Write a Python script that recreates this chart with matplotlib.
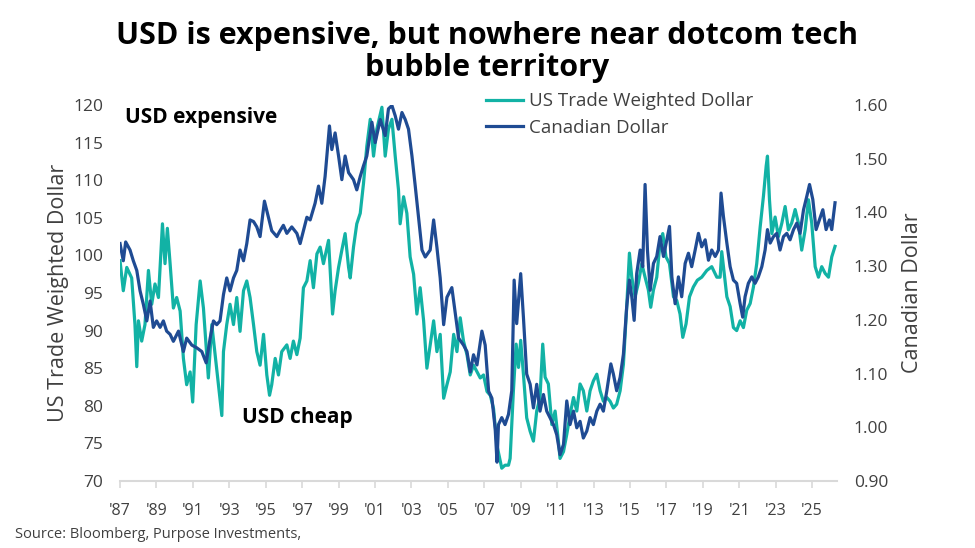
import numpy as np
import matplotlib
matplotlib.use("Agg")
import matplotlib.pyplot as plt
from matplotlib.ticker import FormatStrFormatter

# data (decimal years)
twd_years = [1987.00, 1987.18, 1987.37, 1987.64, 1987.82, 1987.92, 1988.01, 1988.19, 1988.37, 1988.56,
             1988.74, 1988.92, 1989.11, 1989.33, 1989.47, 1989.60, 1989.75, 1989.93, 1990.11, 1990.30,
             1990.48, 1990.66, 1990.85, 1990.99, 1991.18, 1991.40, 1991.58, 1991.85, 1992.04, 1992.22,
             1992.40, 1992.59, 1992.68, 1992.86, 1993.04, 1993.23, 1993.41, 1993.59, 1993.78, 1993.96,
             1994.14, 1994.33, 1994.51, 1994.69, 1994.88, 1995.06, 1995.21, 1995.33, 1995.52, 1995.70,
             1995.88, 1996.16, 1996.34, 1996.52, 1996.71, 1996.89, 1997.07, 1997.26, 1997.44, 1997.62,
             1997.81, 1997.99, 1998.17, 1998.45, 1998.67, 1998.81, 1999.00, 1999.18, 1999.36, 1999.55,
             1999.64, 1999.82, 2000.00, 2000.19, 2000.37, 2000.55, 2000.74, 2000.92, 2001.10, 2001.38,
             2001.56, 2001.74, 2001.93, 2002.11, 2002.29, 2002.38, 2002.57, 2002.75, 2002.93, 2003.12,
             2003.30, 2003.48, 2003.67, 2003.85, 2004.03, 2004.22, 2004.40, 2004.58, 2004.77, 2004.95,
             2005.13, 2005.32, 2005.50, 2005.68, 2005.86, 2006.05, 2006.23, 2006.41, 2006.78, 2006.96,
             2007.15, 2007.33, 2007.51, 2007.70, 2007.96, 2008.14, 2008.33, 2008.42, 2008.51, 2008.60,
             2008.75, 2008.88, 2009.00, 2009.15, 2009.33, 2009.52, 2009.70, 2009.88, 2010.06, 2010.21,
             2010.34, 2010.52, 2010.71, 2010.89, 2011.07, 2011.16, 2011.35, 2011.53, 2011.71, 2011.90,
             2012.08, 2012.26, 2012.44, 2012.63, 2012.81, 2012.99, 2013.18, 2013.36, 2013.54, 2013.73,
             2013.91, 2014.09, 2014.27, 2014.46, 2014.64, 2014.82, 2014.97, 2015.10, 2015.28, 2015.46,
             2015.65, 2015.83, 2016.01, 2016.14, 2016.29, 2016.47, 2016.65, 2016.80, 2016.98, 2017.17,
             2017.39, 2017.57, 2017.75, 2017.90, 2018.08, 2018.27, 2018.48, 2018.70, 2018.94, 2019.22,
             2019.49, 2019.77, 2019.95, 2020.04, 2020.32, 2020.50, 2020.68, 2020.86, 2021.05, 2021.23,
             2021.41, 2021.60, 2021.78, 2021.96, 2022.15, 2022.33, 2022.48, 2022.55, 2022.66, 2022.79,
             2022.97, 2023.15, 2023.34, 2023.52, 2023.70, 2023.88, 2024.07, 2024.25, 2024.43, 2024.62,
             2024.80, 2024.98, 2025.17, 2025.35, 2025.53, 2025.72, 2025.90, 2026.08, 2026.26]
twd_values = [99.3, 95.3, 98.4, 97.0, 90.8, 85.2, 91.3, 88.6, 90.8, 98.0,
              93.5, 96.2, 94.4, 104.2, 98.9, 103.6, 98.9, 93.0, 94.4, 92.6,
              86.3, 82.8, 84.5, 80.5, 90.8, 96.6, 93.0, 83.7, 90.8, 86.8,
              82.8, 78.7, 87.2, 90.8, 93.5, 90.8, 94.4, 89.9, 95.3, 96.6,
              94.4, 90.8, 87.2, 85.4, 89.5, 84.1, 81.4, 82.8, 86.3, 84.1,
              87.2, 88.1, 86.3, 88.6, 86.8, 89.0, 95.7, 96.6, 99.3, 95.7,
              100.2, 101.1, 98.9, 102.0, 92.2, 95.3, 98.4, 100.7, 102.9, 98.4,
              97.0, 101.1, 104.2, 105.6, 109.6, 114.5, 118.1, 113.2, 116.8, 119.7,
              113.2, 116.8, 118.1, 113.2, 108.7, 104.2, 107.8, 105.6, 99.8, 97.5,
              92.2, 95.7, 91.3, 85.0, 88.1, 91.3, 87.2, 89.5, 81.0, 82.8,
              84.5, 89.5, 87.2, 91.7, 88.6, 86.8, 84.1, 85.4, 83.7, 84.1,
              81.9, 81.4, 79.6, 74.7, 71.7, 72.1, 72.1, 73.0, 77.5, 82.0,
              88.2, 85.1, 88.7, 84.2, 78.4, 76.6, 75.3, 79.3, 81.1, 88.2,
              83.8, 82.9, 77.5, 79.3, 75.3, 73.0, 73.9, 76.2, 78.8, 81.1,
              79.3, 82.9, 82.0, 79.3, 82.0, 83.3, 84.2, 82.0, 80.6, 81.1,
              80.6, 79.7, 80.2, 82.0, 85.5, 93.1, 100.3, 97.1, 94.5, 96.3,
              98.9, 97.1, 95.4, 93.1, 95.4, 97.1, 101.6, 102.9, 99.8, 98.9,
              94.5, 94.0, 92.2, 89.1, 90.9, 94.5, 95.8, 96.7, 97.1, 98.0,
              98.5, 97.1, 97.1, 100.5, 94.5, 93.2, 90.4, 90.0, 91.3, 90.4,
              92.7, 93.6, 95.8, 98.9, 103.8, 107.9, 111.9, 113.2, 107.4, 102.9,
              105.1, 102.5, 104.3, 106.5, 103.4, 104.3, 106.1, 104.3, 100.7, 103.4,
              107.4, 104.3, 98.5, 97.1, 98.5, 97.6, 97.1, 99.8, 101.2]

cad_years = [1987.00, 1987.18, 1987.31, 1987.55, 1987.73, 1987.92, 1988.10, 1988.28, 1988.47, 1988.65,
             1988.83, 1989.01, 1989.20, 1989.38, 1989.56, 1989.75, 1989.93, 1990.21, 1990.48, 1990.66,
             1990.94, 1991.21, 1991.49, 1991.73, 1991.95, 1992.13, 1992.31, 1992.49, 1992.68, 1992.86,
             1993.04, 1993.23, 1993.41, 1993.59, 1993.78, 1993.96, 1994.14, 1994.33, 1994.51, 1994.69,
             1994.93, 1995.15, 1995.33, 1995.61, 1995.79, 1995.97, 1996.16, 1996.43, 1996.71, 1996.89,
             1997.07, 1997.26, 1997.44, 1997.71, 1997.90, 1998.08, 1998.26, 1998.50, 1998.63, 1998.81,
             1999.00, 1999.18, 1999.36, 1999.55, 1999.82, 2000.00, 2000.19, 2000.37, 2000.55, 2000.83,
             2001.01, 2001.29, 2001.56, 2001.74, 2001.93, 2002.11, 2002.29, 2002.48, 2002.66, 2002.84,
             2003.03, 2003.21, 2003.39, 2003.58, 2003.76, 2004.03, 2004.22, 2004.40, 2004.58, 2004.77,
             2004.95, 2005.22, 2005.41, 2005.59, 2005.86, 2006.05, 2006.23, 2006.41, 2006.60, 2006.87,
             2007.05, 2007.24, 2007.42, 2007.60, 2007.70, 2007.78, 2007.96, 2008.14, 2008.33, 2008.51,
             2008.64, 2008.78, 2009.00, 2009.15, 2009.33, 2009.52, 2009.70, 2009.88, 2010.06, 2010.25,
             2010.43, 2010.61, 2010.80, 2010.98, 2011.16, 2011.35, 2011.53, 2011.71, 2011.90, 2012.08,
             2012.26, 2012.44, 2012.63, 2012.81, 2012.99, 2013.18, 2013.36, 2013.54, 2013.73, 2013.95,
             2014.09, 2014.27, 2014.46, 2014.64, 2014.82, 2014.97, 2015.10, 2015.23, 2015.37, 2015.56,
             2015.70, 2015.83, 2015.96, 2016.11, 2016.29, 2016.47, 2016.65, 2016.84, 2017.02, 2017.17,
             2017.30, 2017.48, 2017.66, 2017.84, 2018.03, 2018.21, 2018.39, 2018.58, 2018.76, 2018.94,
             2019.13, 2019.31, 2019.49, 2019.68, 2019.86, 2020.00, 2020.13, 2020.32, 2020.50, 2020.68,
             2020.86, 2021.05, 2021.19, 2021.32, 2021.50, 2021.69, 2021.87, 2022.05, 2022.24, 2022.42,
             2022.55, 2022.70, 2022.88, 2023.06, 2023.24, 2023.43, 2023.61, 2023.79, 2023.98, 2024.16,
             2024.34, 2024.53, 2024.71, 2024.86, 2025.04, 2025.22, 2025.40, 2025.59, 2025.77, 2025.95,
             2026.08, 2026.26]
cad_values = [1.342, 1.310, 1.345, 1.330, 1.310, 1.292, 1.254, 1.229, 1.198, 1.235,
              1.186, 1.198, 1.186, 1.198, 1.179, 1.173, 1.160, 1.179, 1.141, 1.166,
              1.153, 1.148, 1.141, 1.120, 1.166, 1.198, 1.191, 1.198, 1.247, 1.278,
              1.254, 1.278, 1.292, 1.330, 1.310, 1.342, 1.386, 1.383, 1.373, 1.355,
              1.421, 1.391, 1.366, 1.355, 1.366, 1.376, 1.361, 1.373, 1.361, 1.342,
              1.366, 1.391, 1.386, 1.417, 1.449, 1.417, 1.467, 1.561, 1.517, 1.548,
              1.505, 1.461, 1.505, 1.474, 1.461, 1.442, 1.467, 1.487, 1.505, 1.568,
              1.530, 1.573, 1.543, 1.593, 1.599, 1.580, 1.555, 1.586, 1.573, 1.555,
              1.505, 1.449, 1.391, 1.330, 1.317, 1.330, 1.386, 1.335, 1.278, 1.191,
              1.242, 1.260, 1.211, 1.166, 1.153, 1.141, 1.103, 1.135, 1.116, 1.179,
              1.153, 1.067, 1.054, 0.997, 0.935, 1.005, 1.018, 1.005, 1.024, 1.068,
              1.274, 1.193, 1.286, 1.205, 1.099, 1.080, 1.036, 1.080, 1.030, 1.061,
              1.030, 1.018, 1.005, 0.986, 0.949, 0.968, 1.049, 1.005, 1.030, 0.999,
              1.011, 0.980, 0.993, 1.018, 1.005, 1.030, 1.043, 1.030, 1.068, 1.118,
              1.099, 1.068, 1.093, 1.136, 1.224, 1.274, 1.243, 1.199, 1.286, 1.330,
              1.299, 1.452, 1.330, 1.255, 1.305, 1.318, 1.355, 1.318, 1.349, 1.374,
              1.280, 1.230, 1.280, 1.243, 1.305, 1.324, 1.299, 1.330, 1.361, 1.336,
              1.349, 1.311, 1.330, 1.318, 1.330, 1.436, 1.393, 1.343, 1.299, 1.274,
              1.268, 1.230, 1.205, 1.243, 1.268, 1.280, 1.268, 1.280, 1.299, 1.330,
              1.368, 1.343, 1.355, 1.361, 1.330, 1.355, 1.361, 1.349, 1.368, 1.380,
              1.361, 1.405, 1.430, 1.452, 1.424, 1.368, 1.386, 1.405, 1.368, 1.386,
              1.368, 1.418]

tick_years = list(range(1987, 2026, 2))
tick_labels = ["'" + str(y)[2:] for y in tick_years]

teal = '#12B2A5'
navy = '#1F4B93'
grey = '#404040'
font = ['Open Sans', 'DejaVu Sans']

fig = plt.figure(figsize=(9.75, 5.48), dpi=100)
ax = fig.add_axes([0.1231, 0.1223, 0.7354, 0.6861])
ax2 = ax.twinx()

l1, = ax.plot(twd_years, twd_values, color=teal, lw=2.3, label='US Trade Weighted Dollar')
l2, = ax2.plot(cad_years, cad_values, color=navy, lw=2.3, label='Canadian Dollar')

ax.set_xlim(1987.0, 2026.37)
ax.set_ylim(70, 120)
ax2.set_ylim(0.90, 1.60)
ax.set_yticks(np.arange(70, 121, 5))
ax2.set_yticks(np.arange(0.90, 1.601, 0.10))
ax2.yaxis.set_major_formatter(FormatStrFormatter('%.2f'))
ax.set_xticks(tick_years)
ax.set_xticklabels(tick_labels)

for a in (ax, ax2):
    for s in ['top', 'left', 'right']:
        a.spines[s].set_visible(False)
    a.spines['bottom'].set_color('#D9D9D9')
    a.spines['bottom'].set_linewidth(1.5)
ax2.spines['bottom'].set_visible(False)

ax.tick_params(axis='x', colors='#D9D9D9', length=5, width=1.2, labelcolor=grey, labelsize=11.5, pad=11)
ax.tick_params(axis='y', length=0, labelcolor=grey, labelsize=12.5, pad=12)
ax2.tick_params(axis='y', length=0, labelcolor=grey, labelsize=12.5, pad=12)
for lab in ax.get_xticklabels() + ax.get_yticklabels() + ax2.get_yticklabels():
    lab.set_family(font)

ax.set_ylabel('US Trade Weighted Dollar', fontsize=15.5, color=grey, family=font, labelpad=3)
ax2.set_ylabel('Canadian Dollar', fontsize=15.5, color=grey, family=font, labelpad=10)

fig.text(0.5, 0.905, 'USD is expensive, but nowhere near dotcom tech\nbubble territory',
         ha='center', va='center', fontsize=22, fontweight='bold', family=font,
         linespacing=1.05, color='black')

ax.text(0.007, 0.967, 'USD expensive', transform=ax.transAxes, fontsize=15, fontweight='bold',
        family=font, va='center', ha='left')
ax.text(0.170, 0.17, 'USD cheap', transform=ax.transAxes, fontsize=15, fontweight='bold',
        family=font, va='center', ha='left')

fig.legend(handles=[l1, l2], loc='upper left', bbox_to_anchor=(0.481, 0.862), frameon=False,
           prop={'family': font, 'size': 13.5}, handlelength=2.0, handletextpad=0.3,
           labelspacing=0.45, labelcolor=grey)

fig.text(0.015, 0.018, 'Source: Bloomberg, Purpose Investments,', fontsize=10.5, color=grey, family=font)

fig.savefig('out.png', dpi=100)
